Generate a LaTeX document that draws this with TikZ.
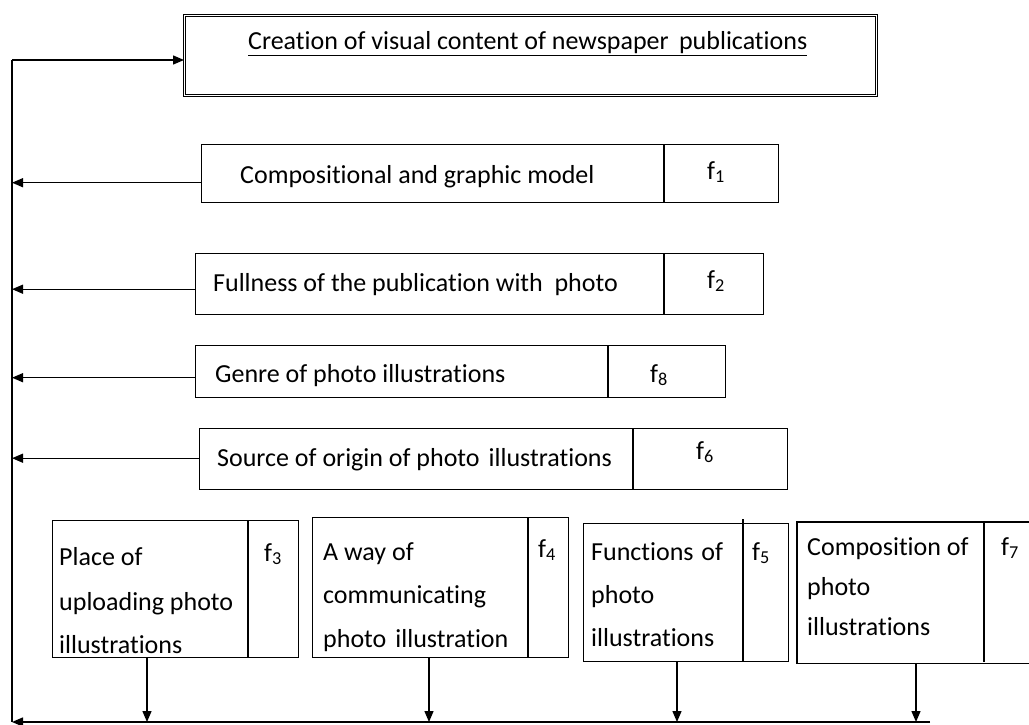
\documentclass[tikz,border=0pt]{standalone}
\usepackage{fontspec}
\setmainfont{Carlito}[Ligatures={NoCommon}]
\usetikzlibrary{arrows.meta}
\tikzset{
  ln/.style={line width=1.4pt, black},
  bx/.style={draw, line width=1.4pt, anchor=north west, inner sep=0pt},
  arr/.style={ln, -{Triangle[length=11pt,width=9pt]}},
  txt/.style={anchor=base west, inner sep=0pt, font=\fontsize{26}{30}\selectfont},
  fl/.style={anchor=base, inner sep=0pt, font=\fontsize{26}{30}\selectfont},
}
\begin{document}
\begin{tikzpicture}[x=1pt,y=-1pt]
\useasboundingbox (0,0) rectangle (1029,725);
% title box
\node[draw, double, double distance=1.8pt, line width=1pt, anchor=north west, inner sep=0pt,
      minimum width=692pt, minimum height=80pt] (T) at (184,15) {};
\node[txt] (tt) at (248,50) {\underline{Creation of visual content of newspaper\hspace{0.4em}publications}};
% side boxes
\node[bx, minimum width=577pt, minimum height=58pt] (b1) at (201,144) {};
\node[bx, minimum width=568pt, minimum height=61pt] (b2) at (195,253) {};
\node[bx, minimum width=530pt, minimum height=52pt] (b8) at (195,345) {};
\node[bx, minimum width=588pt, minimum height=61pt] (b6) at (199,428) {};
\draw[ln] (664,144) -- (664,202);
\draw[ln] (664,253) -- (664,314);
\draw[ln] (608,345) -- (608,397);
\draw[ln] (633,428) -- (633,489);
\node[txt] (t1) at (240,183) {Compositional and graphic model};
\node[txt] (t2) at (213,291) {Fullness of the publication with\hspace{0.45em}photo};
\node[txt] (t8) at (215,382) {Genre of photo illustrations};
\node[txt] (t6) at (217,466) {Source of origin of photo\hspace{0.35em}illustrations};
\node[fl] (f1) at (716,179) {f\textsubscript{1}};
\node[fl] (f2) at (716,288) {f\textsubscript{2}};
\node[fl] (f8) at (659,382) {f\textsubscript{8}};
\node[fl] (f6) at (705,459) {f\textsubscript{6}};
% bottom boxes
\node[bx, minimum width=246pt, minimum height=137pt] (b3) at (52,520) {};
\node[bx, minimum width=256pt, minimum height=140pt] (b4) at (312,517) {};
\node[bx, minimum width=205pt, minimum height=138pt] (b5) at (583,523) {};
\node[bx, draw=none, minimum width=240pt, minimum height=140pt] (b7) at (797,522) {};
\draw[ln] (b7.north east) -- (b7.north west) -- (b7.south west) -- (b7.south east);
\draw[ln] (248,520) -- (248,657);
\draw[ln] (528,517) -- (528,657);
\draw[ln] (743,519) -- (743,661);
\draw[ln] (984,522) -- (984,662);
\node[txt] (t3a) at (59,565) {Place of};
\node[txt] (t3b) at (59,610) {uploading photo};
\node[txt] (t3c) at (59,653) {illustrations};
\node[txt] (t4a) at (323,560) {A way of};
\node[txt] (t4b) at (323,603) {communicating};
\node[txt] (t4c) at (323,647) {photo\hspace{0.35em}illustration};
\node[txt] (t5a) at (591,560) {Functions\hspace{0.3em}of};
\node[txt] (t5b) at (591,603) {photo};
\node[txt] (t5c) at (591,646) {illustrations};
\node[txt] (t7a) at (807,555) {Composition of};
\node[txt] (t7b) at (807,595) {photo};
\node[txt] (t7c) at (807,635) {illustrations};
\node[fl] (f3) at (273,561) {f\textsubscript{3}};
\node[fl] (f4) at (547,557) {f\textsubscript{4}};
\node[fl] (f5) at (761,560) {f\textsubscript{5}};
\node[fl] (f7) at (1010,555) {f\textsubscript{7}};
% connectors
\coordinate (cTop) at (12,60);
\coordinate (cBL) at (12,722);
\coordinate (cBR) at (930,722);
\draw[ln] (cTop) -- (cBL);
\draw[arr] (cTop) -- (cTop -| T.west);
\draw[arr] ([yshift=-9pt]b1.west) -- ([yshift=-9pt]b1.west -| cTop);
\draw[arr] ([yshift=-5pt]b2.west) -- ([yshift=-5pt]b2.west -| cTop);
\draw[arr] ([yshift=-6pt]b8.west) -- ([yshift=-6pt]b8.west -| cTop);
\draw[arr] ([yshift=1pt]b6.west) -- ([yshift=1pt]b6.west -| cTop);
\draw[arr] (cBR) -- (cBL);
\draw[arr] ([xshift=95pt]b3.south west) -- ([xshift=95pt]b3.south west |- cBL);
\draw[arr] ([xshift=117pt]b4.south west) -- ([xshift=117pt]b4.south west |- cBL);
\draw[arr] ([xshift=94pt]b5.south west) -- ([xshift=94pt]b5.south west |- cBL);
\draw[arr] ([xshift=119pt]b7.south west) -- ([xshift=119pt]b7.south west |- cBL);
\end{tikzpicture}
\end{document}
